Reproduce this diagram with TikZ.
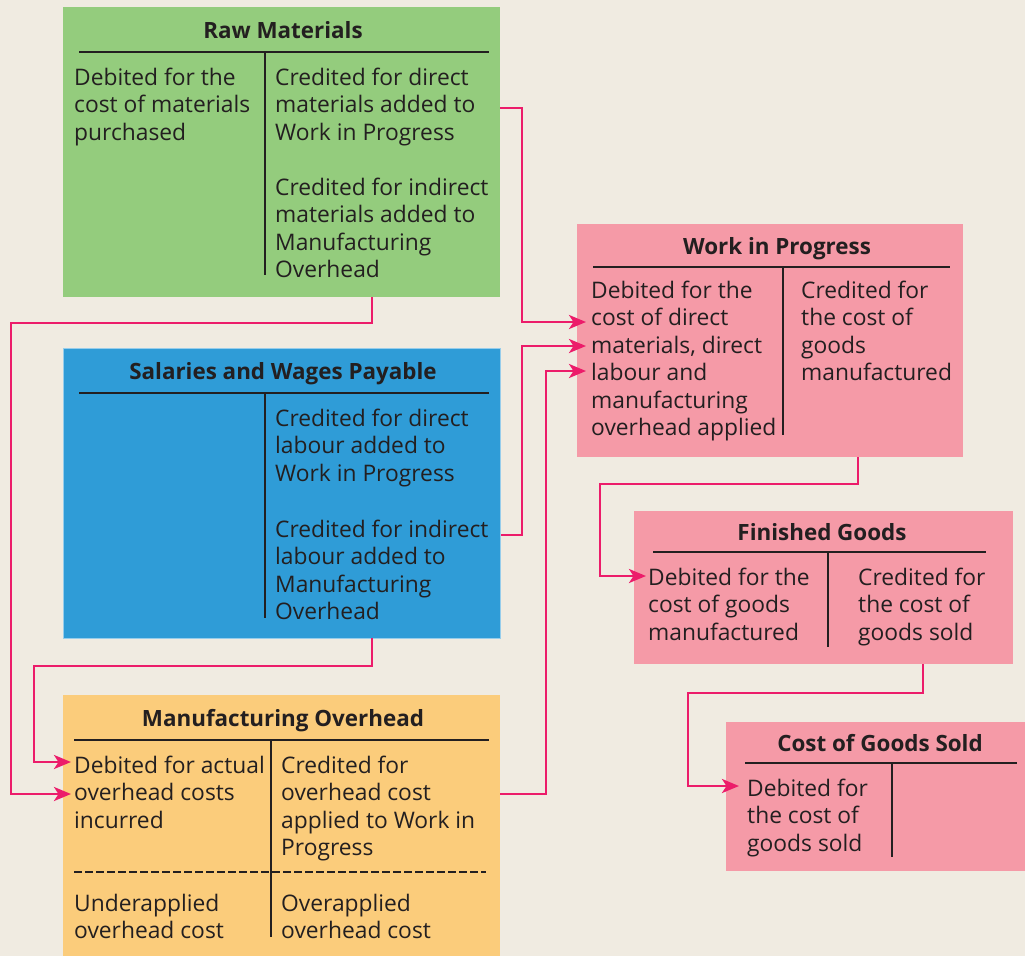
\documentclass[tikz,border=0pt]{standalone}
\usepackage{fontspec}
\setmainfont{Open Sans}
\usetikzlibrary{arrows.meta,calc}
\definecolor{paper}{HTML}{F0EBE1}
\definecolor{rmgreen}{HTML}{94CC7D}
\definecolor{swblue}{HTML}{2F9CD7}
\definecolor{mohgold}{HTML}{FBCC7B}
\definecolor{acpink}{HTML}{F59AA7}
\definecolor{flowpink}{HTML}{EC1C6A}
\definecolor{ink}{HTML}{231F20}
\tikzset{
  acct/.style={anchor=north west, inner sep=0pt, draw=none},
  ttl/.style={anchor=base, inner sep=0pt, text=ink, font=\fontsize{22.4}{26}\selectfont\bfseries},
  % multi-line entries are placed by the baseline of their last line
  lbl/.style={anchor=base west, align=left, inner sep=0pt, text=ink,
              font=\fontsize{22.8}{27.5}\selectfont},
  trule/.style={draw=ink, line width=1.6pt},
  flow/.style={draw=flowpink, line width=2.8pt,
               -{Stealth[length=17pt,width=14pt,inset=4.5pt]}},
}
\begin{document}
\begin{tikzpicture}[x=1pt,y=-1pt]
\useasboundingbox[fill=paper] (0,0) rectangle (1025,956);

% ---- account boxes ----
\node[acct, fill=rmgreen, minimum width=437pt, minimum height=290pt] (rm) at (63,7) {};
\node[acct, fill=swblue, draw=swblue!50!white, line width=1pt, minimum width=437pt, minimum height=290pt] (sw) at (63,348) {};
\node[acct, fill=mohgold, minimum width=437pt, minimum height=261pt] (moh) at (63,695) {};
\node[acct, fill=acpink, minimum width=386pt, minimum height=233pt] (wip) at (577,224) {};
\node[acct, fill=acpink, minimum width=379pt, minimum height=153pt] (fg) at (634,511) {};
\node[acct, fill=acpink, minimum width=299pt, minimum height=149pt] (cgs) at (726,722) {};

% ---- titles ----
\node[ttl] (rmT) at (283,38) {Raw Materials};
\node[ttl] (swT) at (283,379) {Salaries and Wages Payable};
\node[ttl] (mohT) at (283,726) {Manufacturing Overhead};
\node[ttl] (wipT) at (777,254) {Work in Progress};
\node[ttl] (fgT) at (822,540) {Finished Goods};
\node[ttl] (cgsT) at (880,751) {Cost of Goods Sold};

% ---- T-account rules ----
\draw[trule] (79,52) -- (489,52) (265,52) -- (265,275);
\draw[trule] (79,393) -- (489,393) (265,393) -- (265,618);
\draw[trule] (74,740) -- (489,740) (271,740) -- (271,937);
\draw[ink, line width=1.2pt, dash pattern=on 7.5pt off 3.5pt] (74,872) -- (486,872);
\draw[trule] (593,267) -- (950,267) (783,267) -- (783,435);
\draw[trule] (653,552) -- (986,552) (828,552) -- (828,647);
\draw[trule] (745,763) -- (1017,763) (892,763) -- (892,857);

% ---- entries ----
\node[lbl] (rmL) at (74,140) {Debited for the\\cost of materials\\purchased};
\node[lbl] (rmR1) at (275,140) {Credited for direct\\materials added to\\Work in Progress};
\node[lbl] (rmR2) at (275,277.5) {Credited for indirect\\materials added to\\Manufacturing\\Overhead};
\node[lbl] (swR1) at (275,481) {Credited for direct\\labour added to\\Work in Progress};
\node[lbl] (swR2) at (275,619.5) {Credited for indirect\\labour added to\\Manufacturing\\Overhead};
\node[lbl] (mohL) at (74,828) {Debited for actual\\overhead costs\\incurred};
\node[lbl] (mohR) at (281,855.5) {Credited for\\overhead cost\\applied to Work in\\Progress};
\node[lbl] (mohU) at (74,938.5) {Underapplied\\overhead cost};
\node[lbl] (mohO) at (281,938.5) {Overapplied\\overhead cost};
\node[lbl] (wipL) at (591,435.5) {Debited for the\\cost of direct\\materials, direct\\labour and\\manufacturing\\overhead applied};
\node[lbl] (wipR) at (801,380.5) {Credited for\\the cost of\\goods\\manufactured};
\node[lbl] (fgL) at (648,640) {Debited for the\\cost of goods\\manufactured};
\node[lbl] (fgR) at (858,640) {Credited for\\the cost of\\goods sold};
\node[lbl] (cgsL) at (747,851) {Debited for\\the cost of\\goods sold};

% ---- connector end points ----
\coordinate (rmOutR) at (rm.east |- 0,108);
\coordinate (rmOutB) at (372,297);
\coordinate (swOutR) at (sw.east |- 0,535);
\coordinate (swOutB) at (372,638);
\coordinate (mohOutR) at (moh.east |- 0,794);
\coordinate (mohIn1) at (71,762);
\coordinate (mohIn2) at (71,794);
\coordinate (wipIn1) at (586,322);
\coordinate (wipIn2) at (586,346);
\coordinate (wipIn3) at (586,371);
\coordinate (wipOutB) at (858,457);
\coordinate (fgIn) at (646,576);
\coordinate (fgOutB) at (923,664);
\coordinate (cgsIn) at (739,786);

% ---- flows ----
\draw[flow] (rmOutR) -- (522,108) -- (522,322) -- (wipIn1);
\draw[flow] (swOutR) -- (522,535) -- (522,346) -- (wipIn2);
\draw[flow] (mohOutR) -- (546,794) -- (546,371) -- (wipIn3);
\draw[flow] (rmOutB) -- (372,323) -- (11,323) -- (11,794) -- (mohIn2);
\draw[flow] (swOutB) -- (372,666) -- (34,666) -- (34,762) -- (mohIn1);
\draw[flow] (wipOutB) -- (858,484) -- (600,484) -- (600,576) -- (fgIn);
\draw[flow] (fgOutB) -- (923,693) -- (688,693) -- (688,786) -- (cgsIn);
\end{tikzpicture}
\end{document}
